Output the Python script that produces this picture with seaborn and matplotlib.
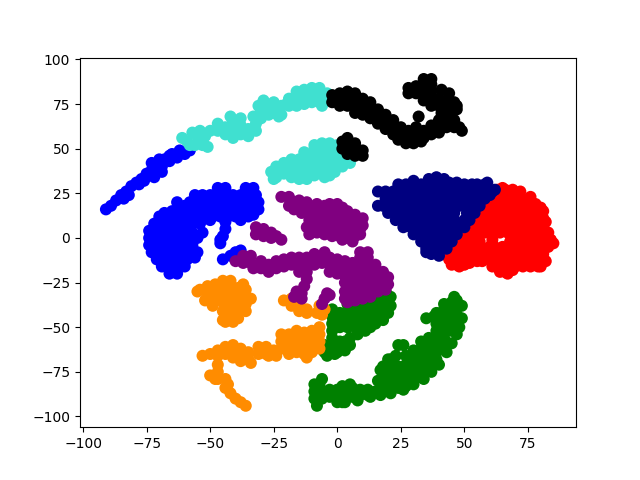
import pandas as pd
import matplotlib
matplotlib.use('Agg')
import matplotlib.pyplot as plt
import seaborn as sns

# Embedding coordinates, one list per group
red_pts = [(63,27),(66,27),(60,23),(63,23),(66,23),(69,23),(72,23),(58,19),(61,19),(64,19),(67,19),(70,19),(73,19),(76,19),(78,19),
           (55,15),(58,15),(61,15),(64,15),(67,15),(70,15),(73,15),(76,15),(79,15),
           (54,11),(57,11),(60,11),(63,11),(66,11),(69,11),(72,11),(75,11),(78,11),(81,11),
           (51,7),(54,7),(57,7),(60,7),(63,7),(66,7),(69,7),(72,7),(75,7),(78,7),(81,7),
           (49,3),(52,3),(55,3),(58,3),(61,3),(64,3),(67,3),(70,3),(73,3),(76,3),(79,3),
           (47,-1),(50,-1),(53,-1),(61,-1),(69,-1),(72,-1),(75,-1),(78,-1),(81,-1),(83,-1),
           (47,-5),(50,-5),(53,-5),(56,-5),(60,-5),(63,-6),(68,-5),(71,-5),(74,-5),(77,-5),(80,-5),(83,-5),
           (42,-9),(45,-9),(48,-9),(51,-9),(60,-9),(63,-9),(66,-9),(69,-9),(72,-9),(75,-9),(78,-9),(81,-9),
           (44,-12),(47,-12),(50,-12),(60,-12),(63,-12),(66,-12),(69,-12),(72,-12),(75,-12),(78,-12),(81,-12),
           (47,-15),(50,-15),(64,-16),(67,-16),(70,-16),(73,-16),(76,-16),(79,-16),(66,-19),(69,-18),
           (81,15),(82,9),(84,-1),(85,-3),(83,3),(80,17),(76,23),(72,26),(69,27),(65,28),
           (80,-16),(82,-13),(67,-20),(64,-19),(61,-16),(55,-13),(52,-14),(48,-16),(45,-15),
           (56,-2),(58,-6),(65,-5),(66,-6),(57,-9),(54,-9),(53,-11),(57,-13),(61,-3),(68,-2)]
navy_pts = [(39,34),(24,30),(27,30),(30,30),(33,30),(36,30),(39,30),(42,30),(47,31),(50,30),(53,30),(55,30),(58,30),
            (16,26),(19,26),(22,26),(25,26),(28,26),(31,26),(34,26),(37,26),(40,26),(43,26),(46,26),(49,26),(52,26),(55,26),(58,26),(61,26),
            (19,22),(22,22),(25,22),(28,22),(31,22),(34,22),(37,22),(40,22),(43,22),(46,22),(49,22),(52,22),(55,22),(58,22),
            (18,18),(21,18),(24,18),(27,18),(30,18),(33,18),(36,18),(39,18),(42,18),(45,18),(48,18),(51,18),(54,18),(56,18),
            (20,14),(23,14),(26,14),(29,14),(32,14),(35,14),(38,14),(41,14),(44,14),(46,14),(51,14),(54,14),
            (23,10),(26,10),(29,10),(32,10),(35,10),(38,10),(41,10),(44,10),(46,10),(50,10),(52,10),
            (26,6),(29,6),(32,6),(35,6),(38,6),(41,6),(44,6),(47,6),(50,6),
            (30,2),(33,2),(36,2),(39,2),(42,2),(45,2),(47,2),
            (33,-2),(36,-2),(39,-2),(42,-2),(45,-2),(35,-6),(38,-6),(41,-6),(43,-6),(35,-8),(37,-9),(40,-10),
            (62,27),(60,24),(59,31),(44,31),(36,33),(30,32),(16,18),(42,33)]
blue_pts = [(-91,16),(-89,18),(-87,21),(-85,24),(-83,26),(-84,22),(-81,29),(-79,31),(-77,33),(-75,36),(-76,32),(-73,38),(-71,41),
            (-72,34),(-69,40),(-68,44),(-65,47),(-62,49),(-66,43),(-60,47),(-58,49),(-63,45),(-70,44),
            (-69,37),(-73,42),(-66,46),(-78,30),(-82,24),
            (-63,20),(-47,28),(-44,28),(-36,28),(-33,28),
            (-56,24),(-53,24),(-50,24),(-47,24),(-44,24),(-41,24),(-38,24),(-35,24),(-32,24),
            (-58,20),(-55,20),(-52,20),(-49,20),(-46,20),(-43,20),(-40,20),(-37,20),(-34,20),(-31,20),
            (-58,16),(-55,16),(-52,16),(-49,16),(-46,16),(-43,16),(-40,16),(-37,16),(-34,16),(-31,16),
            (-70,12),(-67,12),(-64,12),(-61,12),(-58,12),(-55,12),(-52,12),(-49,12),(-46,12),(-43,12),(-40,12),(-37,12),(-35,12),
            (-62,16),(-65,15),(-68,14),(-60,18),(-50,10),(-44,9),(-38,10),(-33,13),
            (-72,8),(-69,8),(-66,8),(-63,8),(-60,8),(-57,8),(-54,8),
            (-74,4),(-71,4),(-68,4),(-65,4),(-62,4),(-59,4),(-53,3),(-44,5),(-45,1),(-46,-3),(-46,-1),
            (-74,0),(-71,0),(-68,0),(-65,0),(-62,0),(-59,0),(-55,0),(-57,3),(-57,-1),
            (-74,-4),(-71,-4),(-68,-4),(-65,-4),(-60,-4),(-57,-4),(-62,-3),
            (-73,-8),(-70,-8),(-67,-8),(-64,-8),(-61,-8),(-58,-8),(-55,-8),
            (-71,-12),(-68,-12),(-65,-12),(-62,-12),(-59,-12),(-56,-11),
            (-69,-16),(-66,-16),(-63,-16),(-60,-16),(-66,-20),(-63,-20),
            (-45,-12),(-42,-10),(-40,-8),(-38,-7)]
green_pts = [(19,-30),(19,-34),(19,-38),(16,-32),(16,-36),(16,-40),(16,-44),(13,-34),(13,-38),(13,-42),(13,-46),(13,-50),
             (10,-36),(10,-40),(10,-44),(10,-48),(7,-38),(7,-42),(7,-46),(7,-50),(4,-37),(4,-41),(4,-45),(4,-50),
             (1,-42),(1,-46),(1,-50),(-2,-44),(-2,-48),(-2,-52),(-2,-56),(-2,-60),(1,-58),(1,-62),(3,-58),(-5,-60),(-5,-64),(-2,-64),(0,-64),
             (20,-42),(18,-46),(21,-33),(21,-38),(15,-48),(11,-52),(8,-54),(5,-56),(5,-60),(3,-63),(-1,-65),(-4,-66),(-2,-40),
             (24,-60),(26,-60),
             (-9,-82),(-9,-86),(-9,-90),(-7,-82),(-6,-86),(-6,-90),(-8,-94),(-3,-85),(-3,-89),(0,-85),(0,-89),(0,-92),(3,-85),(3,-89),(2,-92),
             (6,-84),(6,-89),(9,-85),(9,-88),(12,-85),(12,-88),(15,-86),(18,-82),(18,-86),(21,-84),(21,-87),
             (3,-92),(8,-91),(13,-89),(17,-88),(-6,-79),(2,-83),(5,-82),
             (24,-72),(24,-76),(24,-80),(24,-84),(21,-68),(21,-72),(21,-76),(21,-80),(18,-72),(18,-76),(18,-79),
             (17,-74),(16,-80),(20,-68),(23,-66),(27,-66),
             (27,-71),(27,-75),(27,-79),(27,-83),(30,-63),(30,-67),(30,-71),(30,-75),(30,-79),
             (33,-58),(33,-62),(33,-66),(33,-70),(33,-74),(33,-78),(36,-56),(36,-60),(36,-64),(36,-68),(36,-72),
             (39,-48),(39,-52),(39,-56),(39,-60),(39,-64),(39,-68),(35,-45),(38,-44),
             (26,-85),(30,-82),(34,-79),(37,-75),(40,-71),(43,-64),(45,-59),(48,-50),(49,-45),(49,-38),(46,-33),(42,-37),(39,-42),
             (42,-40),(42,-44),(42,-48),(42,-52),(42,-56),(42,-60),(45,-36),(45,-40),(45,-44),(45,-48),(45,-52),
             (47,-35),(47,-39),(47,-43),(47,-47),(47,-51),(47,-54)]
orange_pts = [(-54,-29),(-51,-27),(-51,-31),(-48,-26),(-48,-30),(-48,-34),(-45,-24),(-45,-28),(-45,-32),(-45,-36),(-42,-27),(-42,-31),
              (-42,-35),(-42,-39),(-42,-44),(-45,-41),(-45,-46),(-39,-28),(-39,-32),(-39,-36),(-39,-40),(-39,-45),(-36,-29),(-36,-33),(-36,-37),(-50,-35),(-41,-47),
              (-55,-30),(-52,-35),(-49,-38),(-36,-41),(-34,-34),(-37,-26),(-42,-24),(-44,-47),
              (-21,-35),(-18,-34),(-18,-38),(-15,-37),(-15,-41),(-12,-40),(-12,-42),(-8,-42),(-6,-43),(-7,-38),(-5,-40),
              (-53,-66),(-50,-65),(-47,-63),(-47,-66),(-44,-61),(-44,-65),(-41,-60),(-41,-64),(-41,-67),(-38,-62),(-38,-66),(-38,-69),
              (-35,-64),(-35,-68),(-34,-70),(-31,-61),(-31,-65),(-28,-61),(-28,-65),(-25,-63),(-22,-54),(-22,-58),(-22,-62),
              (-19,-54),(-19,-58),(-19,-62),(-16,-52),(-16,-56),(-16,-60),(-16,-64),(-13,-53),(-13,-57),(-13,-61),(-13,-65),
              (-10,-52),(-10,-56),(-10,-60),(-10,-64),(-7,-50),(-7,-54),(-7,-58),(-7,-62),
              (-27,-66),(-24,-66),(-19,-65),(-12,-67),
              (-47,-71),(-47,-75),(-48,-79),(-50,-77),(-47,-79),(-44,-79),(-43,-82),(-44,-84),(-42,-87),(-40,-90),(-38,-92),(-36,-94)]
purple_pts = [(-22,23),(-19,23),(-17,20),(-19,18),(-14,18),(-17,16),(-14,14),(-11,18),(-11,14),(-11,10),(-8,18),(-8,14),(-8,10),(-8,6),(-8,3),
              (-5,18),(-5,14),(-5,10),(-5,6),(-5,2),(-2,17),(-2,13),(-2,9),(-2,5),(-2,1),(1,17),(1,13),(1,9),(1,5),(1,1),
              (4,15),(4,11),(4,7),(4,3),(4,0),(7,13),(7,9),(7,5),(7,1),(9,9),(9,5),(2,-1),(-12,6),
              (10,7),(10,11),(9,2),(6,-2),(0,19),(-3,19),(-8,19),(-12,20),(-15,21),(2,17),(-10,3),(-11,2),
              (-32,6),(-32,2),(-29,5),(-29,1),(-26,3),(-26,0),(-24,1),(-22,-1),
              (-40,-13),(-37,-10),(-37,-14),(-34,-10),(-34,-14),(-33,-17),(-30,-13),(-30,-17),(-27,-15),(-27,-19),(-24,-13),(-24,-17),
              (-21,-12),(-21,-16),(-18,-11),(-18,-15),(-15,-11),(-15,-15),(-15,-19),(-12,-11),(-12,-15),(-12,-19),(-12,-23),(-13,-27),
              (-14,-31),(-16,-30),(-17,-33),(-14,-34),(-9,-11),(-9,-15),(-6,-10),(-6,-14),(-3,-11),(-3,-15),(-3,-19),
              (0,-12),(0,-16),(0,-20),(3,-13),(3,-17),(3,-21),(3,-25),(3,-30),(3,-34),(6,-14),(6,-18),(6,-22),(6,-26),(6,-30),(6,-34),
              (9,-11),(9,-15),(9,-19),(9,-23),(9,-27),(9,-31),(12,-11),(12,-15),(12,-19),(12,-23),(12,-27),(12,-31),
              (15,-15),(15,-19),(15,-23),(15,-27),(18,-19),(18,-23),(18,-27),(-4,-31),(-5,-34),(-6,-37),(-3,-32),
              (20,-22),(20,-26),(19,-29),(16,-30),(13,-33),(10,-34),(7,-35),(4,-36),(12,-8),(9,-8),(-5,-8),(-9,-9)]
turquoise_pts = [(-59,54),(-56,52),(-53,52),(-55,57),(-52,57),(-57,59),(-51,51),
                 (-50,60),(-47,60),(-44,58),(-41,56),(-47,64),(-44,62),(-41,60),(-38,58),(-41,65),(-38,63),(-35,61),(-38,67),(-36,59),(-35,57),(-32,60),(-42,68),
                 (-32,64),(-30,67),(-27,69),(-30,71),(-28,74),(-29,77),(-25,70),(-23,68),(-22,69),
                 (-33,68),(-31,74),(-26,74),(-24,72),(-22,74),(-25,76),(-61,56),(-58,52),(-54,60),
                 (-19,74),(-19,78),(-16,74),(-16,78),(-16,82),(-13,75),(-13,79),(-13,83),(-10,76),(-10,80),(-10,84),(-7,76),(-7,80),(-7,84),
                 (-4,77),(-4,81),(-6,74),(-3,80),(-20,75),
                 (-24,34),(-24,38),(-21,36),(-21,40),(-18,34),(-18,38),(-18,42),(-15,33),(-15,37),(-15,41),(-12,36),(-12,40),(-12,44),(-13,48),
                 (-9,39),(-9,43),(-9,47),(-9,50),(-6,38),(-6,42),(-6,46),(-6,50),(-3,35),(-3,38),(-3,42),(-3,46),(-3,50),(0,41),(0,45),(0,49),(3,44),(3,48),(-5,34),
                 (-9,52),(-6,53),(-3,53),(0,52),(3,51),(-15,44),(-18,44),(-21,42),(-24,40),(-26,37),(-25,33),(-12,33),(-9,35),(-1,37),(2,40),(5,42)]
black_pts = [(-2,80),(-2,76),(1,81),(1,77),(1,74),(4,82),(4,78),(4,74),(7,78),(7,74),(7,70),(10,76),(10,72),(10,69),(13,74),(13,70),(13,67),
             (7,81),(10,78),(13,76),(16,72),(22,58),(24,55),
             (16,68),(16,64),(19,69),(19,65),(19,61),(22,66),(22,62),(25,62),(25,58),(28,60),(28,56),(27,53),(31,62),(31,58),(30,53),(34,60),(34,56),(33,54),
             (37,58),(37,63),(40,66),(40,62),(40,59),(43,66),(43,62),(46,66),(46,62),(48,62),(49,60),
             (34,89),(31,85),(34,85),(37,86),(28,81),(31,81),(34,81),(37,82),(41,83),(34,77),(37,78),(40,78),(43,77),(46,76),
             (28,84),(37,89),(44,81),(47,74),
             (37,74),(40,74),(43,73),(46,72),(41,70),(44,70),(47,72),(32,68),
             (4,55),(4,51),(4,47),(7,53),(7,49),(7,46),(10,49),(10,46),(2,50),(2,54),(4,56)]

groups = {'navy': navy_pts, 'turquoise': turquoise_pts, 'darkorange': orange_pts, 'red': red_pts,
          'blue': blue_pts, 'purple': purple_pts, 'green': green_pts, 'black': black_pts}
draw_order = ['red', 'navy', 'blue', 'green', 'darkorange', 'purple', 'turquoise', 'black']

rows = []
for colour in draw_order:
    for x, y in groups[colour]:
        rows.append({'x': x, 'y': y, 'group': colour})
df = pd.DataFrame(rows)

fig, ax = plt.subplots(figsize=(6.4, 4.8), dpi=100)
sns.scatterplot(data=df, x='x', y='y', hue='group', palette={c: c for c in draw_order},
                s=75, linewidth=0, legend=False, ax=ax)
ax.set_xlabel('')
ax.set_ylabel('')
ax.set_xlim(-101.2, 93.9)
ax.set_ylim(-106, 101)
ax.set_xticks([-100, -75, -50, -25, 0, 25, 50, 75])
ax.set_yticks([-100, -75, -50, -25, 0, 25, 50, 75, 100])
fig.savefig('out.png', dpi=100)
